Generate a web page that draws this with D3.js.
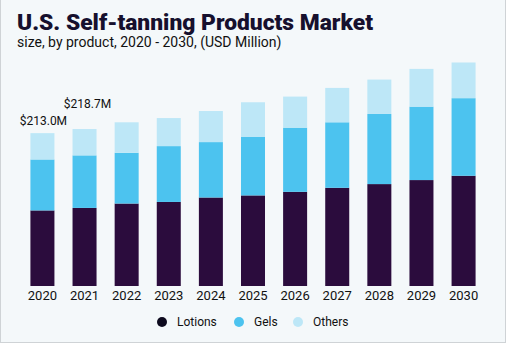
<!DOCTYPE html>
<html>
<head>
<meta charset="utf-8">
<script src="https://cdn.jsdelivr.net/npm/d3@7"></script>
<style>
  html, body { margin: 0; padding: 0; background: #f4f8fa; }
  svg { display: block; }
</style>
</head>
<body>
<svg id="chart" width="506" height="343"></svg>
<script>
// ------------------
// Data (USD Million)
// ------------------
const years = ["2020", "2021", "2022", "2023", "2024", "2025", "2026", "2027", "2028", "2029", "2030"];
const lotions = [105.3, 108.8, 114.9, 117.1, 123.3, 126.2, 131.2, 136.8, 142.0, 147.6, 153.6];
const gels    = [71.0, 73.2, 70.7, 77.8, 77.2, 81.4, 89.4, 91.3, 97.7, 102.3, 108.1];
const others  = [36.7, 36.7, 42.5, 39.1, 43.3, 48.4, 43.3, 47.9, 47.9, 52.6, 49.7];
const seriesNames = ["Lotions", "Gels", "Others"];
const valueLabels = { "2020": "$213.0M", "2021": "$218.7M" };

const colors = {
  Lotions: "#2b0c3d",
  Gels: "#4cc3ef",
  Others: "#bde7f7"
};

const rows = years.map((y, i) => ({
  year: y,
  Lotions: lotions[i],
  Gels: gels[i],
  Others: others[i]
}));

// ------------------
// Layout
// ------------------
const svg = d3.select("#chart");
const W = 506, H = 343;

// panel frame
svg.append("rect")
  .attr("x", 0.5).attr("y", -2)
  .attr("width", W - 1).attr("height", H + 1.5)
  .attr("fill", "#f4f8fa")
  .attr("stroke", "#cfd3d6");

const x = d3.scaleBand()
  .domain(years)
  .range([22, 484])
  .paddingInner(0.43)
  .paddingOuter(0.2);

const y = d3.scaleLinear()
  .domain([0, 350])
  .range([286, 34.8]);

const stack = d3.stack().keys(seriesNames);
const layers = stack(rows);

svg.append("g")
  .selectAll("g")
  .data(layers)
  .join("g")
  .attr("fill", d => colors[d.key])
  .selectAll("rect")
  .data(d => d)
  .join("rect")
  .attr("x", d => x(d.data.year))
  .attr("y", d => y(d[1]))
  .attr("width", x.bandwidth())
  .attr("height", d => y(d[0]) - y(d[1]));

// totals over the first two bars
svg.append("g")
  .selectAll("text")
  .data(rows.filter(r => valueLabels[r.year]))
  .join("text")
  .attr("x", (d, i) => x(d.year) + x.bandwidth() / 2 + (i === 0 ? 1 : 3))
  .attr("y", (d, i) => y(d.Lotions + d.Gels + d.Others) - (i === 0 ? 8 : 21))
  .attr("text-anchor", "middle")
  .attr("font-family", "Roboto, 'Liberation Sans', sans-serif")
  .attr("font-size", 12)
  .attr("fill", "#111")
  .text(d => valueLabels[d.year]);

// year axis (labels only)
const xAxis = svg.append("g")
  .attr("transform", `translate(0,${y(0)})`)
  .call(d3.axisBottom(x).tickSize(0).tickPadding(5));
xAxis.select(".domain").remove();
xAxis.selectAll("text")
  .attr("font-family", "Roboto, 'Liberation Sans', sans-serif")
  .attr("font-size", 13)
  .attr("fill", "#111");

// ------------------
// Titles
// ------------------
svg.append("text")
  .attr("x", 17).attr("y", 30)
  .attr("font-family", "Roboto, 'Liberation Sans', sans-serif")
  .attr("font-weight", 900)
  .attr("font-size", 22)
  .attr("textLength", 356)
  .attr("lengthAdjust", "spacingAndGlyphs")
  .attr("fill", "#16102e")
  .text("U.S. Self-tanning Products Market");

svg.append("text")
  .attr("x", 17).attr("y", 47)
  .attr("font-family", "Roboto, 'Liberation Sans', sans-serif")
  .attr("font-size", 14)
  .attr("fill", "#111")
  .text("size, by product, 2020 - 2030, (USD Million)");

// ------------------
// Legend
// ------------------
const legendX = [162, 239, 298];
const legend = svg.append("g")
  .selectAll("g")
  .data(seriesNames)
  .join("g")
  .attr("transform", (d, i) => `translate(${legendX[i]},322)`);

legend.append("circle")
  .attr("r", 5)
  .attr("fill", d => d === "Lotions" ? "#0d0a1e" : colors[d]);

legend.append("text")
  .attr("x", 15)
  .attr("dy", "0.35em")
  .attr("font-family", "Roboto, 'Liberation Sans', sans-serif")
  .attr("font-size", 12)
  .attr("fill", "#111")
  .text(d => d);
</script>
</body>
</html>
